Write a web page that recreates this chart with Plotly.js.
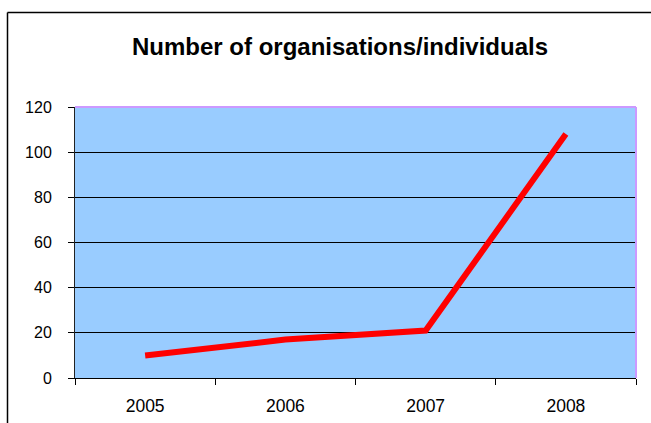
<!DOCTYPE html>
<html>
<head>
<meta charset="utf-8">
<script src="https://cdn.plot.ly/plotly-3.0.1.min.js"></script>
<style>html,body{margin:0;padding:0;background:#fff;}#chart{width:651px;height:423px;}</style>
</head>
<body>
<div id="chart"></div>
<script>
const years = ["2005", "2006", "2007", "2008"];
const counts = [10, 17, 21, 108];
const yTicks = [0, 20, 40, 60, 80, 100, 120];
const chartTitle = "Number of organisations/individuals";

const L = 75, R = 636, T = 107, B = 378, W = 651, H = 423;
const px = x => (x - L) / (R - L);
const py = y => (B - y) / (B - T);

const trace = {
  x: years, y: counts, type: "scatter", mode: "lines",
  line: {color: "#FF0000", width: 6},
  hoverinfo: "skip"
};

const layout = {
  width: W, height: H,
  margin: {l: L, r: W - R, t: T, b: H - B, pad: 0},
  paper_bgcolor: "#FFFFFF",
  plot_bgcolor: "#99CCFF",
  showlegend: false,
  font: {family: "Liberation Sans, Arial, sans-serif", size: 16, color: "#000"},
  title: {
    text: "<b>" + chartTitle + "</b>",
    font: {family: "Liberation Sans, Arial, sans-serif", size: 24, color: "#000"},
    x: 340 / W, xref: "container", xanchor: "center",
    y: 1 - 47 / H, yref: "container", yanchor: "middle"
  },
  xaxis: {
    type: "category", range: [-0.5, 3.5],
    tickson: "boundaries", ticks: "outside", ticklen: 6, tickcolor: "#000", tickwidth: 1,
    showline: true, linecolor: "#000", linewidth: 1,
    showgrid: false, zeroline: false,
    ticklabelstandoff: 12,
    tickfont: {size: 17.5}
  },
  yaxis: {
    range: [0, 120], tickvals: yTicks, ticktext: yTicks.map(String),
    ticks: "outside", ticklen: 6, tickcolor: "#000", tickwidth: 1,
    showline: true, linecolor: "#222", linewidth: 1,
    showgrid: true, gridcolor: "#000", gridwidth: 1,
    zeroline: false,
    ticklabelstandoff: 13,
    tickfont: {size: 16}
  },
  shapes: [
    {type: "line", xref: "paper", yref: "paper", x0: 0, x1: 1, y0: 1, y1: 1,
     line: {color: "#CC99FF", width: 2}},
    {type: "line", xref: "paper", yref: "paper", x0: 1, x1: 1, y0: 0, y1: 1,
     line: {color: "#CC99FF", width: 2}},
    {type: "line", xref: "paper", yref: "paper", x0: px(7.5), x1: px(7.5), y0: py(12.5), y1: py(440),
     line: {color: "#000", width: 1.5}},
    {type: "line", xref: "paper", yref: "paper", x0: px(7.5), x1: px(680), y0: py(12.5), y1: py(12.5),
     line: {color: "#000", width: 1.5}}
  ]
};

Plotly.newPlot("chart", [trace], layout, {displayModeBar: false, staticPlot: true});
</script>
</body>
</html>
